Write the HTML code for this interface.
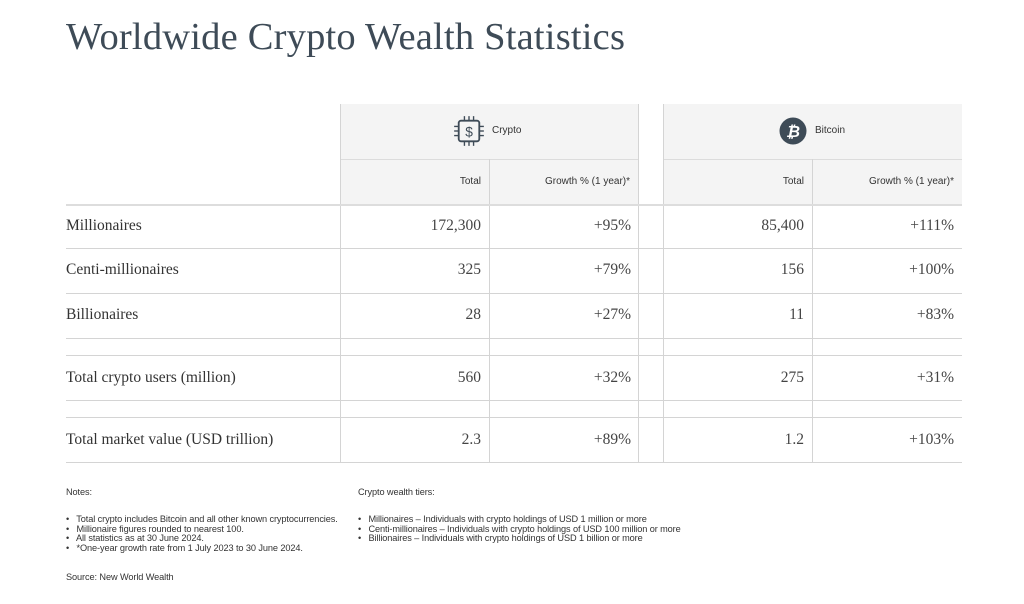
<!DOCTYPE html>
<html><head><meta charset="utf-8"><style>
body{margin:0;width:1024px;height:604px;background:#fff;position:relative;overflow:hidden;font-family:"Liberation Serif",serif;color:#444}
.a{position:absolute}
.t{left:66px;top:15px;font-size:38.5px;color:#3e4b57;letter-spacing:0.2px}
.bg{background:#f4f4f4}
.h{height:1px;background:#d4d4d4;left:66px;width:896px}
.v{width:1px;background:#d4d4d4}
.lab{left:66px;font-size:15.5px;color:#333}
.num{font-size:15.5px;text-align:right;width:140px}
.sh{font-family:"Liberation Sans",sans-serif;font-size:10px;color:#333;text-align:right;width:140px}
.s{font-family:"Liberation Sans",sans-serif;font-size:9.2px;color:#333;line-height:9.7px;white-space:nowrap;letter-spacing:-0.1px}
</style></head><body>
<div class="a t">Worldwide Crypto Wealth Statistics</div>
<div class="a bg" style="left:340px;top:104px;width:298px;height:100px"></div>
<div class="a bg" style="left:663px;top:104px;width:299px;height:100px"></div>
<div class="a" style="left:340px;top:159px;width:298px;height:1px;background:#dcdcdc"></div>
<div class="a" style="left:663px;top:159px;width:299px;height:1px;background:#dcdcdc"></div>
<div class="a v" style="left:340px;top:104px;height:358px"></div>
<div class="a v" style="left:638px;top:104px;height:358px"></div>
<div class="a v" style="left:663px;top:104px;height:358px"></div>
<div class="a v" style="left:489px;top:159px;height:303px"></div>
<div class="a v" style="left:812px;top:159px;height:303px"></div>
<div class="a h" style="top:204px;height:2px;background:#ddd"></div>
<div class="a h" style="top:248px"></div>
<div class="a h" style="top:293px"></div>
<div class="a h" style="top:338px"></div>
<div class="a h" style="top:355px"></div>
<div class="a h" style="top:400px"></div>
<div class="a h" style="top:417px"></div>
<div class="a h" style="top:462px"></div>
<svg class="a" style="left:453px;top:115px" width="32" height="32" viewBox="0 0 28 28"><rect x="5" y="5" width="18" height="18" rx="2" fill="none" stroke="#3e4b57" stroke-width="1.6"/><g stroke="#3e4b57" stroke-width="1.2"><line x1="10" y1="1" x2="10" y2="5"/><line x1="14" y1="1" x2="14" y2="5"/><line x1="18" y1="1" x2="18" y2="5"/><line x1="10" y1="23" x2="10" y2="27"/><line x1="14" y1="23" x2="14" y2="27"/><line x1="18" y1="23" x2="18" y2="27"/><line x1="1" y1="10" x2="5" y2="10"/><line x1="1" y1="14" x2="5" y2="14"/><line x1="1" y1="18" x2="5" y2="18"/><line x1="23" y1="10" x2="27" y2="10"/><line x1="23" y1="14" x2="27" y2="14"/><line x1="23" y1="18" x2="27" y2="18"/></g><text x="14" y="19" font-family="Liberation Sans" font-size="12" fill="#3e4b57" text-anchor="middle">$</text></svg>
<div class="a" style="left:492px;top:125px;font-family:'Liberation Sans',sans-serif;font-size:10px;color:#333">Crypto</div>
<svg class="a" style="left:779px;top:117px" width="28" height="28"><circle cx="14" cy="14" r="13.5" fill="#3e4b57"/><text x="14" y="20" font-family="Liberation Sans" font-weight="bold" font-style="italic" font-size="16" fill="#fff" text-anchor="middle">₿</text></svg>
<div class="a" style="left:815px;top:125px;font-family:'Liberation Sans',sans-serif;font-size:10px;color:#333">Bitcoin</div>
<div class="a sh" style="left:341px;top:176px">Total</div>
<div class="a sh" style="left:490px;top:176px">Growth % (1 year)*</div>
<div class="a sh" style="left:664px;top:176px">Total</div>
<div class="a sh" style="left:814px;top:176px">Growth % (1 year)*</div>

<div class="a lab" style="top:217px">Millionaires</div>
<div class="a num" style="left:341px;top:217px">172,300</div><div class="a num" style="left:491px;top:217px">+95%</div>
<div class="a num" style="left:664px;top:217px">85,400</div><div class="a num" style="left:814px;top:217px">+111%</div>
<div class="a lab" style="top:261px">Centi-millionaires</div>
<div class="a num" style="left:341px;top:261px">325</div><div class="a num" style="left:491px;top:261px">+79%</div>
<div class="a num" style="left:664px;top:261px">156</div><div class="a num" style="left:814px;top:261px">+100%</div>
<div class="a lab" style="top:306px">Billionaires</div>
<div class="a num" style="left:341px;top:306px">28</div><div class="a num" style="left:491px;top:306px">+27%</div>
<div class="a num" style="left:664px;top:306px">11</div><div class="a num" style="left:814px;top:306px">+83%</div>
<div class="a lab" style="top:369px">Total crypto users (million)</div>
<div class="a num" style="left:341px;top:369px">560</div><div class="a num" style="left:491px;top:369px">+32%</div>
<div class="a num" style="left:664px;top:369px">275</div><div class="a num" style="left:814px;top:369px">+31%</div>
<div class="a lab" style="top:431px">Total market value (USD trillion)</div>
<div class="a num" style="left:341px;top:431px">2.3</div><div class="a num" style="left:491px;top:431px">+89%</div>
<div class="a num" style="left:664px;top:431px">1.2</div><div class="a num" style="left:814px;top:431px">+103%</div>

<div class="a s" style="left:66px;top:488px">Notes:</div>
<div class="a s" style="left:66px;top:515px">•&nbsp;&nbsp; Total crypto includes Bitcoin and all other known cryptocurrencies.<br>•&nbsp;&nbsp; Millionaire figures rounded to nearest 100.<br>•&nbsp;&nbsp; All statistics as at 30 June 2024.<br>•&nbsp;&nbsp; *One-year growth rate from 1 July 2023 to 30 June 2024.</div>
<div class="a s" style="left:66px;top:573px">Source: New World Wealth</div>
<div class="a s" style="left:358px;top:488px">Crypto wealth tiers:</div>
<div class="a s" style="left:358px;top:515px">•&nbsp;&nbsp; Millionaires – Individuals with crypto holdings of USD 1 million or more<br>•&nbsp;&nbsp; Centi-millionaires – Individuals with crypto holdings of USD 100 million or more<br>•&nbsp;&nbsp; Billionaires – Individuals with crypto holdings of USD 1 billion or more</div>
</body></html>
